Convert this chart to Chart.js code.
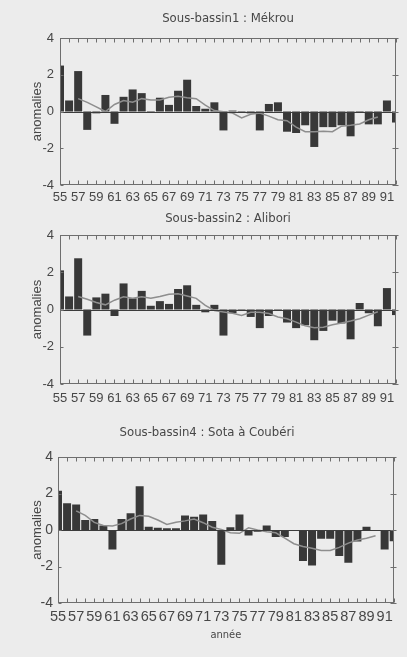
<!DOCTYPE html>
<html>
<head>
<meta charset="utf-8">
<script src="https://cdn.jsdelivr.net/npm/chart.js@4.4.1/dist/chart.umd.min.js"></script>
<style>
  html, body { margin: 0; padding: 0; width: 407px; height: 657px; overflow: hidden; background: #ececec; }
  canvas { position: absolute; }
</style>
</head>
<body>
<canvas id="mekrou" width="407" height="215" style="left:0;top:0"></canvas>
<canvas id="alibori" width="407" height="215" style="left:0;top:200px"></canvas>
<canvas id="sota" width="382" height="247" style="left:17px;top:410px"></canvas>
<script>
// Years 1955-1992 (two-digit labels)
const years = ['55','56','57','58','59','60','61','62','63','64','65','66','67','68','69','70','71','72','73',
               '74','75','76','77','78','79','80','81','82','83','84','85','86','87','88','89','90','91','92'];

// Y axis tick values
const yTicks = [-4, -2, 0, 2, 4];

// Sous-bassin 1 : Mékrou — yearly anomalies and smoothed curve
const mekrouBars = [2.5, 0.6, 2.2, -1.0, -0.1, 0.9, -0.67, 0.8, 1.2, 1.0, -0.05, 0.75, 0.36, 1.13, 1.73, 0.3, 0.15, 0.5, -1.03,
                    0.05, -0.05, -0.1, -1.03, 0.41, 0.5, -1.1, -1.17, -0.75, -1.93, -0.85, -0.85, -0.75, -1.35, -0.05, -0.7, -0.7, 0.6, -0.6];
const mekrouSmooth = [null, null, 0.7, 0.5, 0.25, 0.0, 0.38, 0.6, 0.5, 0.7, 0.63, 0.63, 0.77, 0.83, 0.75, 0.7, 0.35, 0.05, -0.02,
                      -0.08, -0.35, -0.15, -0.08, -0.25, -0.45, -0.5, -0.85, -1.1, -1.1, -1.08, -1.1, -0.8, -0.75, -0.68, -0.45, -0.3, null, null];

// Sous-bassin 2 : Alibori
const aliboriBars = [2.1, 0.7, 2.75, -1.4, 0.65, 0.85, -0.35, 1.4, 0.6, 1.0, 0.2, 0.45, 0.3, 1.1, 1.3, 0.25, -0.15, 0.25, -1.4,
                     -0.2, -0.08, -0.4, -1.0, -0.35, -0.05, -0.7, -1.0, -0.85, -1.65, -1.15, -0.6, -0.75, -1.6, 0.35, -0.2, -0.9, 1.15, -0.3];
const aliboriSmooth = [null, null, 0.7, 0.55, 0.38, 0.25, 0.5, 0.68, 0.6, 0.68, 0.6, 0.7, 0.82, 0.85, 0.72, 0.6, 0.22, -0.05, -0.13,
                       -0.2, -0.32, -0.15, -0.15, -0.22, -0.4, -0.5, -0.68, -0.88, -0.98, -0.95, -0.82, -0.72, -0.62, -0.5, -0.3, -0.12, null, null];

// Sous-bassin 4 : Sota à Coubéri
const sotaBars = [2.15, 1.47, 1.4, 0.55, 0.6, 0.25, -1.07, 0.6, 0.92, 2.4, 0.18, 0.12, 0.1, 0.1, 0.8, 0.72, 0.85, 0.5, -1.9,
                  0.15, 0.85, -0.3, -0.1, 0.25, -0.38, -0.38, -0.06, -1.7, -1.95, -0.48, -0.48, -1.43, -1.8, -0.63, 0.18, 0.0, -1.07, -0.62];
const sotaSmooth = [null, null, 1.05, 0.8, 0.42, 0.25, 0.22, 0.35, 0.6, 0.8, 0.75, 0.55, 0.3, 0.42, 0.5, 0.6, 0.4, 0.15, 0.03,
                    -0.15, -0.18, 0.12, 0.0, -0.1, -0.15, -0.45, -0.75, -0.9, -1.0, -1.12, -1.12, -0.95, -0.72, -0.55, -0.45, -0.32, null, null];

const NARROW = "'DejaVu Sans Condensed', 'Liberation Sans Narrow', sans-serif";
const SANS = "'Liberation Sans', Arial, Helvetica, sans-serif";
const INK = '#474747';

Chart.defaults.color = INK;
Chart.defaults.font.family = SANS;

// Box around the plot, zero line and the small inward tick marks
const framePlugin = {
  id: 'frame',
  afterDatasetsDraw(chart) {
    const { ctx, chartArea: a, scales: { x, y } } = chart;
    const L = Math.round(a.left) + 0.5, R = Math.round(a.right) - 0.5;
    const T = Math.round(a.top) + 0.5, B = Math.round(a.bottom) - 0.5;
    ctx.save();
    ctx.lineWidth = 1;
    ctx.strokeStyle = '#3c3c3c';
    const y0 = Math.round(y.getPixelForValue(0)) + 0.5;
    ctx.beginPath();
    ctx.moveTo(L, y0); ctx.lineTo(R, y0);
    ctx.stroke();

    ctx.strokeStyle = '#6e6e6e';
    ctx.strokeRect(L, T, R - L, B - T);
    ctx.beginPath();
    x.getLabels().forEach((_, i) => {
      const px = Math.round(x.getPixelForValue(i)) + 0.5;
      ctx.moveTo(px, T); ctx.lineTo(px, T + 4);
      ctx.moveTo(px, B); ctx.lineTo(px, B - 4);
    });
    y.ticks.forEach(t => {
      const py = Math.round(y.getPixelForValue(t.value)) + 0.5;
      ctx.moveTo(L, py); ctx.lineTo(L + 3, py);
      ctx.moveTo(R - 3, py); ctx.lineTo(R + 3, py);
    });
    ctx.stroke();
    ctx.restore();
  }
};

function panel(id, cfg) {
  return new Chart(document.getElementById(id), {
    data: {
      labels: years,
      datasets: [
        {
          type: 'line',
          data: cfg.smooth,
          borderColor: '#8e8e8e',
          borderWidth: 1.5,
          pointRadius: 0,
          tension: 0,
          spanGaps: false,
          order: 0
        },
        {
          type: 'bar',
          data: cfg.bars,
          backgroundColor: '#383838',
          borderWidth: 0,
          barPercentage: 0.88,
          categoryPercentage: 1,
          clip: 0,
          order: 1
        }
      ]
    },
    options: {
      responsive: false,
      animation: false,
      events: [],
      layout: { padding: { left: 0, right: cfg.padRight, top: 0, bottom: 0 } },
      plugins: {
        legend: { display: false },
        tooltip: { enabled: false },
        title: {
          display: true,
          text: cfg.title,
          fullSize: cfg.titleFull,
          color: INK,
          font: { family: NARROW, size: 13, weight: 'normal', lineHeight: 1.2 },
          padding: { top: cfg.titleTop, bottom: cfg.titleBottom }
        }
      },
      scales: {
        x: {
          type: 'category',
          offset: false,
          grid: { display: false, drawTicks: false },
          border: { display: false },
          afterFit: s => { s.height = cfg.xHeight; },
          ticks: {
            autoSkip: false,
            maxRotation: 0,
            minRotation: 0,
            padding: cfg.xPad,
            color: INK,
            font: { size: cfg.xFont, lineHeight: 1.2 },
            callback: (v, i) => (i % 2 === 0 ? years[i] : '')
          },
          title: cfg.xTitle ? {
            display: true,
            text: cfg.xTitle,
            color: INK,
            font: { family: NARROW, size: 11, lineHeight: 1.2 },
            padding: { top: 0, bottom: cfg.xTitlePad }
          } : { display: false }
        },
        y: {
          type: 'linear',
          min: -4,
          max: 4,
          grid: { display: false, drawTicks: false },
          border: { display: false },
          afterFit: s => { s.width = cfg.yWidth; },
          afterBuildTicks: s => { s.ticks = yTicks.map(v => ({ value: v })); },
          ticks: {
            padding: cfg.yPad,
            color: INK,
            font: { size: cfg.yFont, lineHeight: 1.2 },
            callback: v => String(v)
          },
          title: {
            display: true,
            text: 'anomalies',
            color: INK,
            font: { size: 13, lineHeight: 1.2 },
            padding: { top: cfg.yTitlePad, bottom: 0 }
          }
        }
      }
    },
    plugins: [framePlugin]
  });
}

panel('mekrou', {
  title: 'Sous-bassin1 : Mékrou', bars: mekrouBars, smooth: mekrouSmooth,
  padRight: 11, titleFull: false, titleTop: 11.2, titleBottom: 11.2,
  xHeight: 30, xPad: 5, xFont: 13, yWidth: 60, yPad: 6, yFont: 13, yTitlePad: 29.2
});

panel('alibori', {
  title: 'Sous-bassin2 : Alibori', bars: aliboriBars, smooth: aliboriSmooth,
  padRight: 11, titleFull: false, titleTop: 11.2, titleBottom: 8.2,
  xHeight: 31, xPad: 7, xFont: 13, yWidth: 60, yPad: 6, yFont: 13, yTitlePad: 29.2
});

panel('sota', {
  title: 'Sous-bassin4 : Sota à Coubéri', bars: sotaBars, smooth: sotaSmooth,
  padRight: 2, titleFull: true, titleTop: 15.2, titleBottom: 16.2,
  xHeight: 54, xPad: 5.3, xFont: 14.5, xTitle: 'année', xTitlePad: 15.4,
  yWidth: 41, yPad: 5, yFont: 14, yTitlePad: 12.2
});
</script>
</body>
</html>
